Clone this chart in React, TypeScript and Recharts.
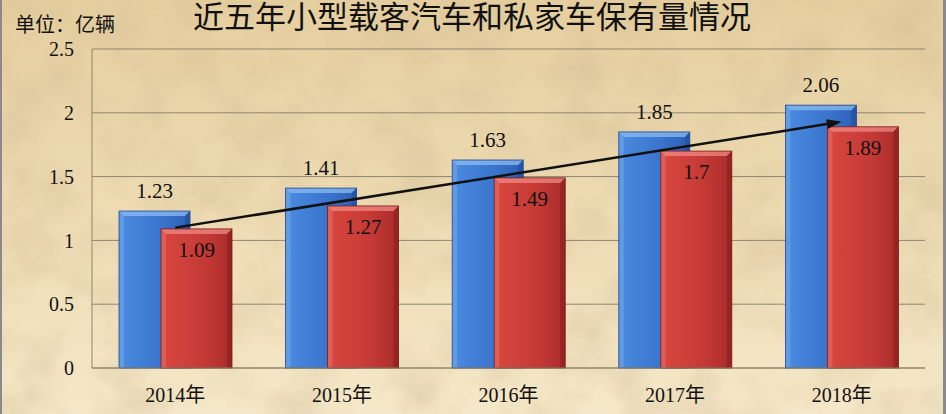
import { BarChart, Bar, XAxis, YAxis, CartesianGrid, LabelList, ReferenceLine } from 'recharts';

const years = ['2014年', '2015年', '2016年', '2017年', '2018年'];
const smallCars = [1.23, 1.41, 1.63, 1.85, 2.06];
const privateCars = [1.09, 1.27, 1.49, 1.7, 1.89];
const yTicks = [0, 0.5, 1, 1.5, 2, 2.5];
const arrowFrom = { year: '2014年', value: 1.1 };
const arrowTo = { year: '2018年', value: 1.93 };

const data = years.map((year, i) => ({ year, small: smallCars[i], priv: privateCars[i] }));

const SERIF = "'Liberation Serif', 'Noto Sans CJK SC', serif";
const W = 946;
const H = 414;

// bevelled bar like the office 3D preset
const bevelBar = (id: string, light: string, dark: string) => (props: any) => {
  const { x, y, width, height } = props;
  if (!height || height <= 0) return null;
  const b = 5;
  return (
    <g>
      <rect x={x} y={y} width={width} height={height} fill={`url(#${id})`} />
      <polygon points={`${x},${y} ${x + width},${y} ${x + width - b},${y + b} ${x + b},${y + b}`} fill={light} opacity={0.75} />
      <polygon points={`${x},${y} ${x + b},${y + b} ${x + b},${y + height} ${x},${y + height}`} fill={light} opacity={0.35} />
      <polygon points={`${x + width},${y} ${x + width - b},${y + b} ${x + width - b},${y + height} ${x + width},${y + height}`} fill={dark} opacity={0.45} />
      <rect x={x} y={y} width={width} height={height} fill="none" stroke={dark} strokeWidth={0.8} />
    </g>
  );
};

const Arrow = (props: any) => {
  const { x1, y1, x2, y2 } = props;
  if ([x1, y1, x2, y2].some((v) => v == null || isNaN(v))) return null;
  const ang = Math.atan2(y2 - y1, x2 - x1);
  const len = 15;
  const half = 5;
  const bx = x2 - len * Math.cos(ang);
  const by = y2 - len * Math.sin(ang);
  const px = -Math.sin(ang) * half;
  const py = Math.cos(ang) * half;
  return (
    <g>
      <line x1={x1} y1={y1} x2={bx} y2={by} stroke="#111" strokeWidth={2.5} />
      <polygon points={`${x2},${y2} ${bx + px},${by + py} ${bx - px},${by - py}`} fill="#111" />
    </g>
  );
};

export default function App() {
  return (
    <div style={{ position: 'absolute', left: 0, top: 0, width: W, height: H, overflow: 'hidden' }}>
      <svg width={W} height={H} style={{ position: 'absolute', left: 0, top: 0 }}>
        <defs>
          <linearGradient id="paperBase" x1="0" y1="0" x2="0" y2="1">
            <stop offset="0%" stopColor="#e6cf9f" />
            <stop offset="55%" stopColor="#eedcb4" />
            <stop offset="100%" stopColor="#f5e8c8" />
          </linearGradient>
          <filter id="paperNoise" x="0" y="0" width="100%" height="100%">
            <feTurbulence type="fractalNoise" baseFrequency="0.018" numOctaves="5" seed="7" />
            <feColorMatrix type="matrix" values="0 0 0 0 0.62  0 0 0 0 0.48  0 0 0 0 0.28  1.6 0 0 0 -0.62" />
          </filter>
        </defs>
        <rect x={0} y={0} width={W} height={H} fill="url(#paperBase)" />
        <rect x={0} y={0} width={W} height={H} filter="url(#paperNoise)" opacity={0.5} />
        <rect x={0} y={0} width={2} height={H} fill="#8a8a8a" />
        <rect x={943} y={0} width={3} height={H} fill="#8a8a8a" />
        <text x={472} y={28} textAnchor="middle" fontFamily="'Noto Sans CJK SC', sans-serif" fontSize={31} fontWeight={400} fill="#111">
          近五年小型载客汽车和私家车保有量情况
        </text>
        <text x={15} y={32} fontFamily="'Noto Sans CJK SC', sans-serif" fontSize={20} fill="#111">
          单位：亿辆
        </text>
      </svg>
      <div style={{ position: 'absolute', left: 0, top: 0 }}>
        <BarChart width={W} height={H} data={data} margin={{ top: 49, right: 21, left: 0, bottom: 0 }} barSize={71} barGap={-29}>
          <defs>
            <linearGradient id="blueFill" x1="0" y1="0" x2="1" y2="0">
              <stop offset="0%" stopColor="#4a8be0" />
              <stop offset="60%" stopColor="#3a74cc" />
              <stop offset="100%" stopColor="#2c5fb4" />
            </linearGradient>
            <linearGradient id="redFill" x1="0" y1="0" x2="1" y2="0">
              <stop offset="0%" stopColor="#d9473f" />
              <stop offset="60%" stopColor="#c53a36" />
              <stop offset="100%" stopColor="#a92c2b" />
            </linearGradient>
          </defs>
          <CartesianGrid vertical={false} stroke="#8f8571" strokeWidth={1} />
          <XAxis
            dataKey="year"
            height={46}
            axisLine={{ stroke: '#8f8571' }}
            tickLine={false}
            tickSize={0}
            tickMargin={20}
            tick={{ fontSize: 20, fontFamily: SERIF, fill: '#111' }}
          />
          <YAxis
            width={92}
            domain={[0, 2.5]}
            ticks={yTicks}
            axisLine={{ stroke: '#8f8571' }}
            tickLine={false}
            tickSize={0}
            tickMargin={18}
            tick={{ fontSize: 20, fontFamily: SERIF, fill: '#111' }}
          />
          <Bar dataKey="small" isAnimationActive={false} shape={bevelBar('blueFill', '#8cbcf2', '#1e4690')}>
            <LabelList dataKey="small" position="top" offset={13} fontSize={21} fontFamily={SERIF} fill="#111" />
          </Bar>
          <Bar dataKey="priv" isAnimationActive={false} shape={bevelBar('redFill', '#f08a84', '#7a1a1a')}>
            <LabelList dataKey="priv" position="insideTop" offset={13} fontSize={21} fontFamily={SERIF} fill="#111" />
          </Bar>
          <ReferenceLine
            segment={[{ x: arrowFrom.year, y: arrowFrom.value }, { x: arrowTo.year, y: arrowTo.value }]}
            shape={Arrow}
          />
        </BarChart>
      </div>
    </div>
  );
}
